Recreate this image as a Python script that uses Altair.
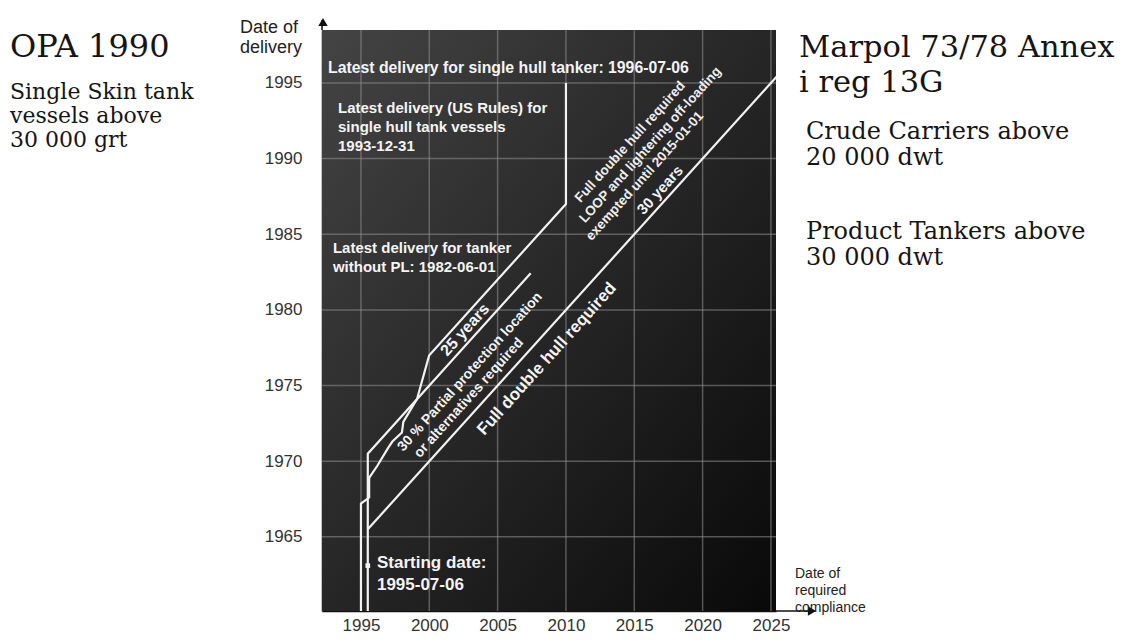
import altair as alt
import pandas as pd

# ---------------- data ----------------
x_ticks = [1995, 2000, 2005, 2010, 2015, 2020, 2025]
y_ticks = [1965, 1970, 1975, 1980, 1985, 1990, 1995]
X_DOM = [1992.15, 2025.37]
Y_DOM = [1960.1, 1998.5]

# OPA 90 phase-out line (stepped, then 23 years, then all by 2010)
opa_x = [1995.0, 1995.0, 1995.6, 1995.6, 1996.2, 1997.0, 1997.3, 1998.0, 1998.1, 1999.1, 1999.9, 2000.0, 2010.0, 2010.0]
opa_y = [1960.1, 1967.2, 1967.6, 1968.9, 1969.7, 1970.9, 1971.3, 1971.9, 1972.6, 1974.1, 1976.7, 1977.0, 1987.0, 1995.0]
# MARPOL 13G: 25 years line (tankers without PL) and 30 years line
m25_x = [1995.5, 1995.5, 2007.42]
m25_y = [1960.1, 1970.5, 1982.42]
m30_x = [1995.5, 2026.0]
m30_y = [1965.5, 1996.0]
start_x = [1995.5]
start_y = [1963.1]

# horizontal annotations inside the plot
h_text = ["Latest delivery for single hull tanker: 1996-07-06",
          "Latest delivery (US Rules) for", "single hull tank vessels", "1993-12-31",
          "Latest delivery for tanker", "without PL: 1982-06-01",
          "Starting date:", "1995-07-06"]
h_x = [1992.59, 1993.32, 1993.32, 1993.32, 1992.95, 1992.95, 1996.17, 1996.17]
h_y = [1995.99, 1993.35, 1992.09, 1990.84, 1984.10, 1982.84, 1963.28, 1961.83]
h_size = [15.8, 15, 15, 15, 15, 15, 17, 17]

# rotated annotations along the diagonal bands (centred)
r_text = ["25 years", "30 % Partial protection location", "or alternatives required",
          "Full double hull required", "30 years"]
r_x = [2002.61, 2002.98, 2002.90, 2008.61, 2016.88]
r_y = [1978.68, 1975.90, 1974.18, 1976.76, 1987.93]
r_size = [16, 14, 14, 17, 15]

# rotated block above the 30 years line (left-anchored)
b_text = ["Full double hull required", "LOOP and lightering off-loading", "exempted until 2015-01-01"]
b_x = [2010.84, 2011.17, 2011.65]
b_y = [1987.23, 1985.88, 1984.71]

# ---------------- frames ----------------
lines_df = pd.concat([
    pd.DataFrame({"x": opa_x, "y": opa_y, "s": "opa", "i": range(len(opa_x))}),
    pd.DataFrame({"x": m25_x, "y": m25_y, "s": "m25", "i": range(len(m25_x))}),
    pd.DataFrame({"x": m30_x, "y": m30_y, "s": "m30", "i": range(len(m30_x))}),
])
bg_df = pd.DataFrame({"x": [X_DOM[0]], "x2": [X_DOM[1]], "y": [Y_DOM[0]], "y2": [Y_DOM[1]]})
vgrid = pd.DataFrame({"x": x_ticks})
hgrid = pd.DataFrame({"y": y_ticks})
h_df = pd.DataFrame({"x": h_x, "y": h_y, "t": h_text, "sz": h_size})
r_df = pd.DataFrame({"x": r_x, "y": r_y, "t": r_text, "sz": r_size})
b_df = pd.DataFrame({"x": b_x, "y": b_y, "t": b_text})
start_df = pd.DataFrame({"x": start_x, "y": start_y})
one = pd.DataFrame({"a": [0]})

SANS = "Liberation Sans"
SERIF = "DejaVu Serif"

X = alt.X("x:Q", scale=alt.Scale(domain=X_DOM, nice=False, zero=False),
          axis=alt.Axis(values=x_ticks, format="d", grid=False, ticks=False, domainColor="#111",
                        domainWidth=1.5, labelFontSize=17, labelColor="#333", labelFont=SANS,
                        labelPadding=6, title=None))
Y = alt.Y("y:Q", scale=alt.Scale(domain=Y_DOM, nice=False, zero=False),
          axis=alt.Axis(values=y_ticks, format="d", grid=False, ticks=False, domainColor="#111",
                        domainWidth=1.5, labelFontSize=17, labelColor="#333", labelFont=SANS,
                        labelPadding=20, title=None))

grad = alt.Gradient(gradient="linear",
                    stops=[alt.GradientStop(color="#444444", offset=0),
                           alt.GradientStop(color="#262626", offset=0.5),
                           alt.GradientStop(color="#090909", offset=1)],
                    x1=0, x2=1, y1=0, y2=1)

bg = alt.Chart(bg_df).mark_rect(color=grad).encode(x=X, x2="x2:Q", y=Y, y2="y2:Q")
vg = alt.Chart(vgrid).mark_rule(color="#909090", opacity=0.55, strokeWidth=1.5).encode(x=X)
hg = alt.Chart(hgrid).mark_rule(color="#909090", opacity=0.55, strokeWidth=1.5).encode(y=Y)

lines = alt.Chart(lines_df).mark_line(color="#f2f2f2", strokeWidth=2.2, clip=True).encode(
    x=X, y=Y, detail="s:N", order="i:Q")
start = alt.Chart(start_df).mark_point(shape="square", filled=True, color="#f2f2f2", size=22, opacity=1).encode(x=X, y=Y)

htext = alt.Chart(h_df).mark_text(font=SANS, fontWeight="bold", color="#f4f4f4",
                                  align="left", baseline="middle").encode(
    x=X, y=Y, text="t:N", size=alt.Size("sz:Q", scale=None))
rtext = alt.Chart(r_df).mark_text(font=SANS, fontWeight="bold", color="#f4f4f4", angle=312,
                                  align="center", baseline="middle").encode(
    x=X, y=Y, text="t:N", size=alt.Size("sz:Q", scale=None))
btext = alt.Chart(b_df).mark_text(font=SANS, fontWeight="bold", color="#eeeeee", angle=312,
                                  fontSize=13.5, align="left", baseline="middle").encode(
    x=X, y=Y, text="t:N")

# axis arrows
yarrow_line = alt.Chart(one).mark_rule(color="#111", strokeWidth=1.5).encode(
    x=alt.value(0), y=alt.value(-10), y2=alt.value(0))
yarrow = alt.Chart(one).mark_point(shape="triangle-up", filled=True, color="#111", size=90, opacity=1).encode(
    x=alt.value(1), y=alt.value(-8))
xarrow_line = alt.Chart(one).mark_rule(color="#111", strokeWidth=1.5).encode(
    x=alt.value(454), x2=alt.value(490), y=alt.value(581))
xarrow = alt.Chart(one).mark_point(shape="triangle-right", filled=True, color="#111", size=90, opacity=1).encode(
    x=alt.value(490), y=alt.value(581))


def label(lines_, x, y, size, font, lh, color="#151515", weight="normal"):
    return alt.Chart(one).mark_text(text=lines_, font=font, fontSize=size, lineHeight=lh,
                                    fontWeight=weight, color=color, align="left",
                                    baseline="alphabetic").encode(x=alt.value(x), y=alt.value(y))

# offsets: plot origin is at page (322, 30)
side = [
    label(["OPA 1990"], -312, 27, 32, SERIF, 32),
    label(["Single Skin tank", "vessels above", "30 000 grt"], -312, 69, 22, SERIF, 24),
    label(["Marpol 73/78 Annex"], 477, 27, 30.5, SERIF, 35),
    label(["i reg 13G"], 477, 62, 30.5, SERIF, 35),
    label(["Crude Carriers above", "20 000 dwt"], 484, 109, 24, SERIF, 26),
    label(["Product Tankers above", "30 000 dwt"], 484, 209, 24, SERIF, 26),
    label(["Date of", "delivery"], -82, 3, 18, SANS, 20, color="#222"),
    label(["Date of", "required", "compliance"], 473, 548, 14, SANS, 17, color="#222"),
]

chart = alt.layer(bg, vg, hg, lines, start, htext, rtext, btext,
                  yarrow_line, yarrow, xarrow_line, xarrow, *side).properties(
    width=454, height=581,
    autosize=alt.AutoSizeParams(type="none"),
    padding={"left": 314, "top": 22, "right": 350, "bottom": 22},
    background="white",
).configure_view(stroke=None)

chart.save("out.html", embed_options={"renderer": "svg", "actions": False})
